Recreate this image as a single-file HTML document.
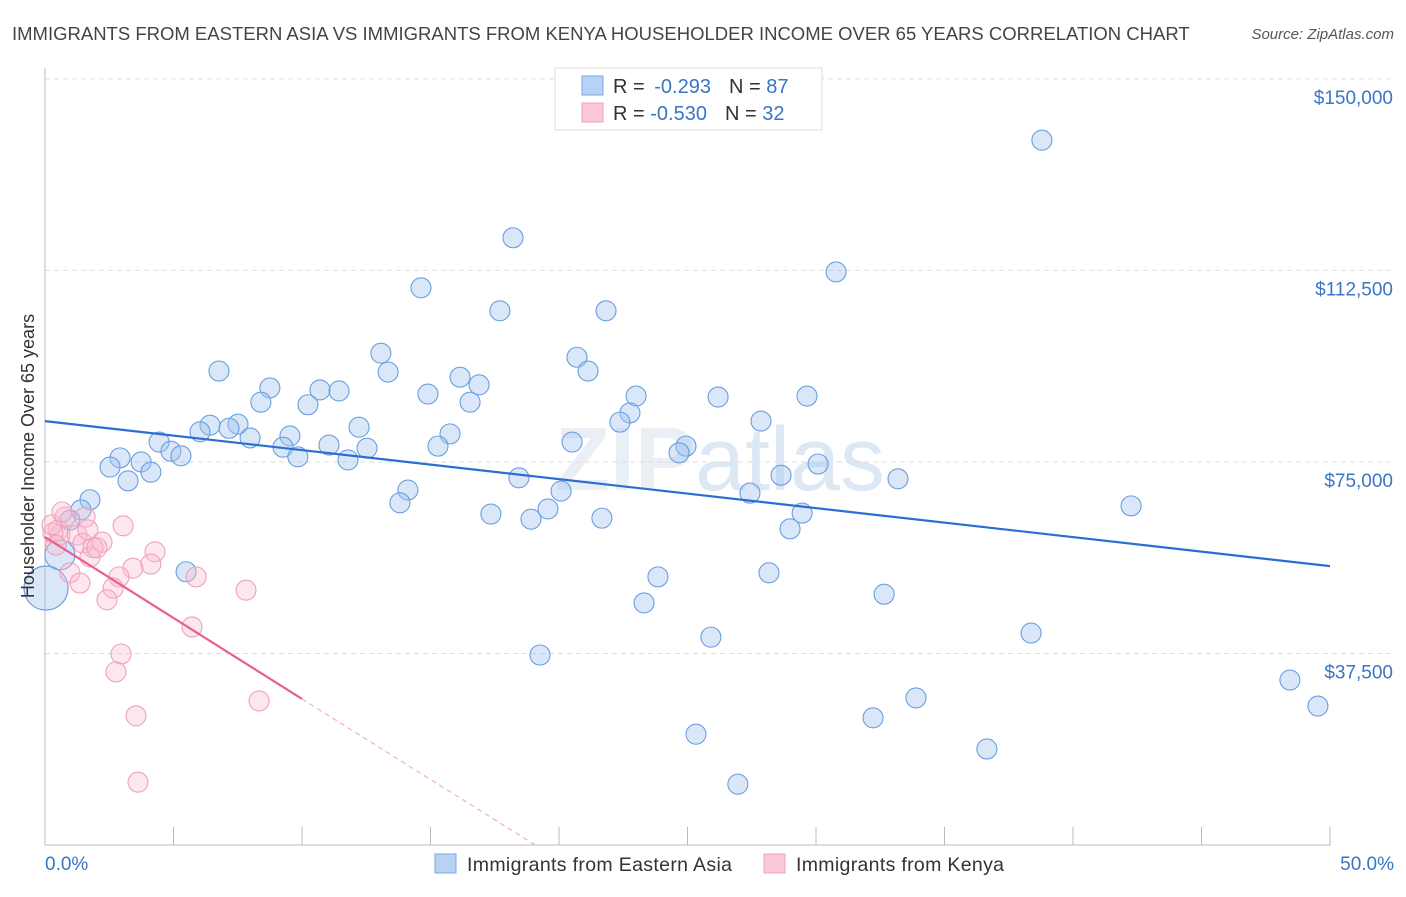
<!DOCTYPE html>
<html><head><meta charset="utf-8"><style>
body{margin:0;background:#fff;font-family:"Liberation Sans",sans-serif;}
svg text{font-family:"Liberation Sans",sans-serif;}
</style></head><body>
<svg id="chart" width="1406" height="892" viewBox="0 0 1406 892" xmlns="http://www.w3.org/2000/svg">
<text x="12" y="40" font-size="18.5" fill="#444">IMMIGRANTS FROM EASTERN ASIA VS IMMIGRANTS FROM KENYA HOUSEHOLDER INCOME OVER 65 YEARS CORRELATION CHART</text>
<text x="1394" y="39" font-size="15" fill="#555" font-style="italic" text-anchor="end">Source: ZipAtlas.com</text>
<text x="720" y="490" font-size="90" fill="#dde6f0" text-anchor="middle" font-weight="bold" opacity="0.6">ZIP<tspan font-weight="normal" fill="#c8daf0">atlas</tspan></text>
<g id="grid"></g>
<g id="axes"></g>
<g id="blue"></g>
<g id="pink"></g>
<g id="trends"></g>
<text transform="translate(34,456) rotate(-90)" font-size="18" fill="#333" text-anchor="middle">Householder Income Over 65 years</text>
<text x="45" y="870" font-size="19" fill="#3a75c4">0.0%</text>
<text x="1394" y="870" font-size="19" fill="#3a75c4" text-anchor="end">50.0%</text>
<g>
<rect x="555" y="68" width="267" height="62" fill="#fff" stroke="#ddd"/>
<rect x="582" y="76" width="21" height="19" fill="#b8d2f4" stroke="#7aa6e0"/>
<rect x="582" y="103" width="21" height="19" fill="#fcc8d8" stroke="#f0a0bc"/>
<text x="613" y="93" font-size="20" fill="#333">R = <tspan dx="4" fill="#3a75c4">-0.293</tspan><tspan dx="18">N = </tspan><tspan fill="#3a75c4">87</tspan></text>
<text x="613" y="120" font-size="20" fill="#333">R = <tspan fill="#3a75c4">-0.530</tspan><tspan dx="18">N = </tspan><tspan fill="#3a75c4">32</tspan></text>
</g>
<g>
<rect x="435" y="854" width="21" height="19" fill="#b8d2f4" stroke="#7aa6e0"/>
<text x="467" y="871" font-size="19.5" fill="#333" textLength="265">Immigrants from Eastern Asia</text>
<rect x="764" y="854" width="21" height="19" fill="#fcc8d8" stroke="#f0a0bc"/>
<text x="796" y="871" font-size="19.5" fill="#333" textLength="208">Immigrants from Kenya</text>
</g>
</svg>
<script>
const yTicks=[37.5,75,112.5,150];
const yTickLabels=["$37,500","$75,000","$112,500","$150,000"];
const xTicks=[0,5,10,15,20,25,30,35,40,45,50];
const blueX=[38.79,18.21,30.78,14.63,17.70,21.83,13.07,20.70,13.35,21.13,6.77,16.15,8.75,16.89,10.70,11.44,14.90,8.40,16.54,23.00,26.19,29.65,10.23,22.76,22.37,27.86,6.42,7.51,6.03,7.16,12.22,9.53,7.98,15.76,20.51,4.44,11.05,9.26,12.53,15.29,24.94,24.67,4.90,5.29,2.92,9.84,11.79,3.74,30.08,2.53,4.12,28.64,33.19,18.44,3.23,14.12,20.08,27.43,1.75,13.81,42.26,19.57,29.46,17.35,21.67,18.91,1.40,0.97,28.99,28.17,23.85,5.49,32.65,23.31,25.91,38.37,19.26,48.44,33.89,32.22,49.53,25.33,36.65,26.96,0.58,0.04];
const blueY=[138.0,118.9,112.2,109.1,104.6,104.6,96.3,95.5,92.6,92.8,92.8,91.6,89.5,90.1,89.1,88.9,88.3,86.7,86.7,87.9,87.7,87.9,86.2,84.6,82.8,83.0,82.2,82.4,80.9,81.6,81.8,80.1,79.7,80.5,78.9,78.9,78.3,77.9,77.7,78.1,78.1,76.8,77.1,76.2,75.8,76.0,75.4,75.0,74.6,74.0,73.0,72.4,71.7,71.9,71.3,69.5,69.3,68.9,67.6,67.0,66.4,65.8,65.0,64.8,64.0,63.8,65.6,63.6,61.9,53.3,52.5,53.5,49.1,47.4,40.7,41.5,37.2,32.3,28.8,24.9,27.2,21.7,18.8,11.9,56.8,50.3];
const blueR=[10,10,10,10,10,10,10,10,10,10,10,10,10,10,10,10,10,10,10,10,10,10,10,10,10,10,10,10,10,10,10,10,10,10,10,10,10,10,10,10,10,10,10,10,10,10,10,10,10,10,10,10,10,10,10,10,10,10,10,10,10,10,10,10,10,10,10,10,10,10,10,10,10,10,10,10,10,10,10,10,10,10,10,10,15,22];
const pinkX=[0.51,0.78,1.56,3.04,0.58,0.31,1.25,1.48,2.22,1.87,1.75,4.28,4.12,3.42,2.88,0.97,1.36,2.65,2.41,5.88,7.82,5.72,2.96,2.76,8.33,3.54,3.62,0.27,0.66,2.02,0.43,1.67];
const pinkY=[61.7,64.2,64.2,62.5,60.7,61.1,60.7,59.1,59.3,58.2,56.4,57.4,55.0,54.2,52.5,53.3,51.3,50.3,48.0,52.5,49.9,42.7,37.4,33.9,28.2,25.3,12.3,62.7,65.2,58.2,58.7,61.7];
const blueTrend=[[0,83.0],[50,54.6]];
const pinkTrendSolid=[[0,60.3],[10,28.6]];
const pinkTrendDash=[[10,28.6],[19.07,0]];
const NS="http://www.w3.org/2000/svg";
const X=v=>45+v*25.7, Y=v=>845-v/0.1958;
function mk(parent,tag,attrs){const e=document.createElementNS(NS,tag);for(const k in attrs)e.setAttribute(k,attrs[k]);document.getElementById(parent).appendChild(e);return e;}
yTicks.forEach((t,i)=>{
 const l=mk('grid','line',{x1:45,x2:1395,y1:Y(t),y2:Y(t),stroke:'#ddd','stroke-dasharray':'5,4'});
 
 
 const tx=mk('grid','text',{x:1393,y:Y(t)+25,'font-size':19,fill:'#3a75c4','text-anchor':'end'});
 tx.textContent=yTickLabels[i];
 
 
});
const ax=mk('axes','line',{x1:45,x2:45,y1:68,y2:845,stroke:'#bbb'});


const bx=mk('axes','line',{x1:45,x2:1330,y1:845,y2:845,stroke:'#bbb'});


xTicks.forEach(t=>{
 const l=mk('axes','line',{x1:X(t),x2:X(t),y1:827,y2:845,stroke:'#bbb'});
 
 
});
blueX.forEach((v,i)=>{
 const c=mk('blue','circle',{cx:X(v),cy:Y(blueY[i]),r:blueR[i],fill:'rgba(160,196,240,0.4)',stroke:'#6a9ee0','stroke-width':1.1});
 
 
});
pinkX.forEach((v,i)=>{
 const c=mk('pink','circle',{cx:X(v),cy:Y(pinkY[i]),r:10,fill:'rgba(248,185,205,0.35)',stroke:'#f0a0bc','stroke-width':1.1});
 
 
});
const t1=mk('trends','line',{x1:X(blueTrend[0][0]),y1:Y(blueTrend[0][1]),x2:X(blueTrend[1][0]),y2:Y(blueTrend[1][1]),stroke:'#2a6fd0','stroke-width':2.2});


const t2=mk('trends','line',{x1:X(pinkTrendSolid[0][0]),y1:Y(pinkTrendSolid[0][1]),x2:X(pinkTrendSolid[1][0]),y2:Y(pinkTrendSolid[1][1]),stroke:'#e8608e','stroke-width':2.2});


const t3=mk('trends','line',{x1:X(pinkTrendDash[0][0]),y1:Y(pinkTrendDash[0][1]),x2:X(pinkTrendDash[1][0]),y2:Y(pinkTrendDash[1][1]),stroke:'#f0a0bc','stroke-width':1,'stroke-dasharray':'5,4'});


</script>
</body></html>
